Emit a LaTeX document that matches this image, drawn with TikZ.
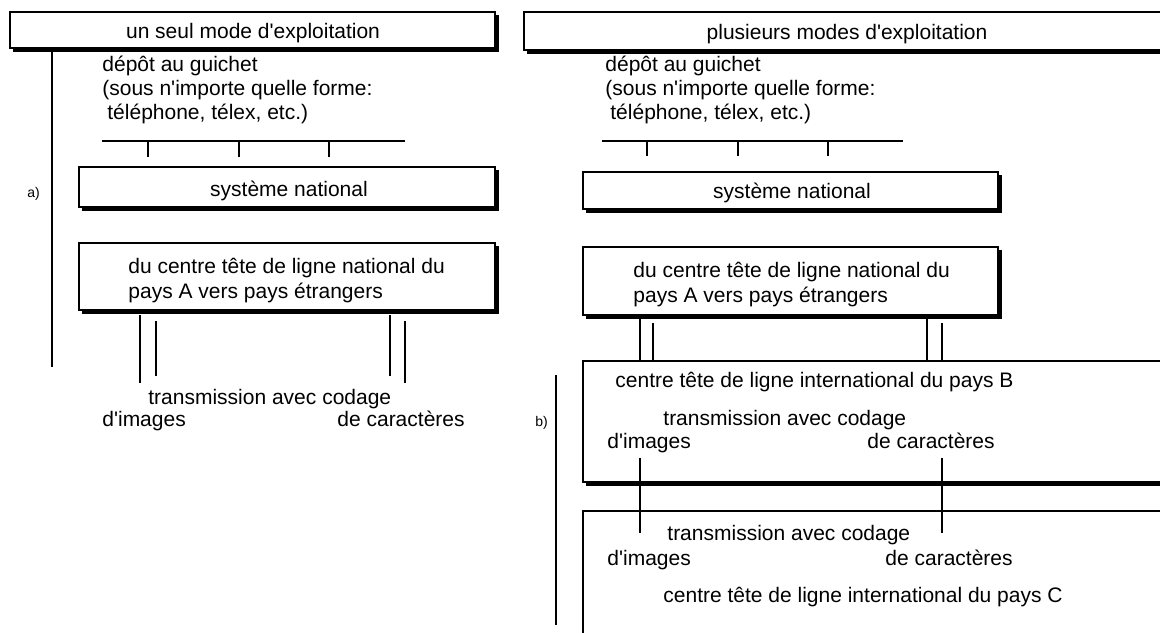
\documentclass[tikz,border=0pt]{standalone}
\usepackage{fontspec}
\newfontfamily\arialf{Liberation Sans}
\newcommand\shbox[4]{%
  \draw[boxline] (#1,#2) rectangle (#3,#4);
  \draw[shadowline] (#1+3,#4+2) -- (#3+2,#4+2) -- (#3+2,#2+3);}
\begin{document}
\begin{tikzpicture}[x=0.5pt,y=-0.5pt,
  boxline/.style={draw=black,line width=0.6pt},
  shadowline/.style={draw=black,line width=1.6pt,line join=miter},
  conn/.style={draw=black,line width=1pt},
  txt/.style={anchor=base west,inner sep=0pt,font=\arialf\fontsize{10.5}{12}\selectfont},
  ctxt/.style={anchor=base,inner sep=0pt,font=\arialf\fontsize{10.5}{12}\selectfont},
  lbl/.style={anchor=base west,inner sep=0pt,font=\arialf\fontsize{7}{8}\selectfont}]
\useasboundingbox (0,0) rectangle (1160,632);
\clip (0,0) rectangle (1160,632);
\fill[white] (0,0) rectangle (1160,632);

% ---------------- left panel a) ----------------
\shbox{10}{12}{495}{48}
\node[ctxt] (titleA) at (253,38) {un seul mode d'exploitation};
\coordinate (vA1) at (52,48); \coordinate (vA2) at (52,367);
\draw[conn] (vA1) -- (vA2);
\node[lbl] (labA) at (27,197) {a)};

\node[txt] (depA1) at (102,71.5) {dépôt au guichet};
\node[txt] (depA2) at (102,95.5) {(sous n'importe quelle forme:};
\node[txt] (depA3) at (107,119.5) {téléphone, télex, etc.)};

\coordinate (hA1) at (102,141); \coordinate (hA2) at (405,141);
\draw[conn] (hA1) -- (hA2);
\coordinate (kA1) at (148,157); \coordinate (kA2) at (239,157); \coordinate (kA3) at (329,157);
\draw[conn] (kA1|-hA1) -- (kA1);
\draw[conn] (kA2|-hA1) -- (kA2);
\draw[conn] (kA3|-hA1) -- (kA3);

\shbox{79}{167}{495}{207}
\node[ctxt] (sysA) at (289,196) {système national};

\shbox{79}{243}{495}{310}
\node[txt] (natA1) at (128,273.5) {du centre tête de ligne national du};
\node[txt] (natA2) at (128,298.5) {pays A vers pays étrangers};

\coordinate (dA1t) at (140,315); \coordinate (dA1b) at (140,383);
\coordinate (dA2t) at (156,321); \coordinate (dA2b) at (156,376);
\coordinate (dA3t) at (390,315); \coordinate (dA3b) at (390,376);
\coordinate (dA4t) at (405,321); \coordinate (dA4b) at (405,383);
\draw[conn] (dA1t) -- (dA1b);
\draw[conn] (dA2t) -- (dA2b);
\draw[conn] (dA3t) -- (dA3b);
\draw[conn] (dA4t) -- (dA4b);

\node[txt] (trA) at (148,404) {transmission avec codage};
\node[txt] (imA) at (102,426) {d'images};
\node[txt] (caA) at (337,426) {de caractères};

% ---------------- right panel b) ----------------
\draw[boxline] (524,12) rectangle (1180,50);
\draw[shadowline] (527,52) -- (1180,52);
\node[ctxt] (titleB) at (847,39) {plusieurs modes d'exploitation};

\node[txt] (depB1) at (605,71.5) {dépôt au guichet};
\node[txt] (depB2) at (605,95.5) {(sous n'importe quelle forme:};
\node[txt] (depB3) at (610,119.5) {téléphone, télex, etc.)};

\coordinate (hB1) at (602,141); \coordinate (hB2) at (903,141);
\draw[conn] (hB1) -- (hB2);
\coordinate (kB1) at (647,156); \coordinate (kB2) at (738,156); \coordinate (kB3) at (828,156);
\draw[conn] (kB1|-hB1) -- (kB1);
\draw[conn] (kB2|-hB1) -- (kB2);
\draw[conn] (kB3|-hB1) -- (kB3);

\shbox{583}{172}{998}{209}
\node[ctxt] (sysB) at (792,198) {système national};

\shbox{583}{247}{998}{315}
\node[txt] (natB1) at (633,277.5) {du centre tête de ligne national du};
\node[txt] (natB2) at (633,302.5) {pays A vers pays étrangers};

\coordinate (dB1t) at (640,318); \coordinate (dB2t) at (653,323);
\coordinate (dB3t) at (927,318); \coordinate (dB4t) at (942,323);
\coordinate (boxBtop) at (583,361);
\draw[conn] (dB1t) -- (dB1t|-boxBtop);
\draw[conn] (dB2t) -- (dB2t|-boxBtop);
\draw[conn] (dB3t) -- (dB3t|-boxBtop);
\draw[conn] (dB4t) -- (dB4t|-boxBtop);

\coordinate (vB1) at (556,375); \coordinate (vB2) at (556,625);
\draw[conn] (vB1) -- (vB2);
\node[lbl] (labB) at (535,426) {b)};

% box of country B
\draw[boxline] (boxBtop) rectangle (1180,482);
\draw[shadowline] (586,484) -- (1180,484);
\node[txt] (ctrB) at (615,387) {centre tête de ligne international du pays B};
\node[txt] (trB) at (663,425) {transmission avec codage};
\node[txt] (imB) at (607,448) {d'images};
\node[txt] (caB) at (867,448) {de caractères};

% box of country C
\draw[boxline] (583,511) rectangle (1180,650);
\coordinate (lB1t) at (640,458); \coordinate (lB1b) at (640,533);
\coordinate (lB2t) at (942,458); \coordinate (lB2b) at (942,533);
\draw[conn] (lB1t) -- (lB1b);
\draw[conn] (lB2t) -- (lB2b);
\node[txt] (trC) at (667,540) {transmission avec codage};
\node[txt] (imC) at (607,565) {d'images};
\node[txt] (caC) at (885,565) {de caractères};
\node[txt] (ctrC) at (663,602) {centre tête de ligne international du pays C};
\end{tikzpicture}
\end{document}
